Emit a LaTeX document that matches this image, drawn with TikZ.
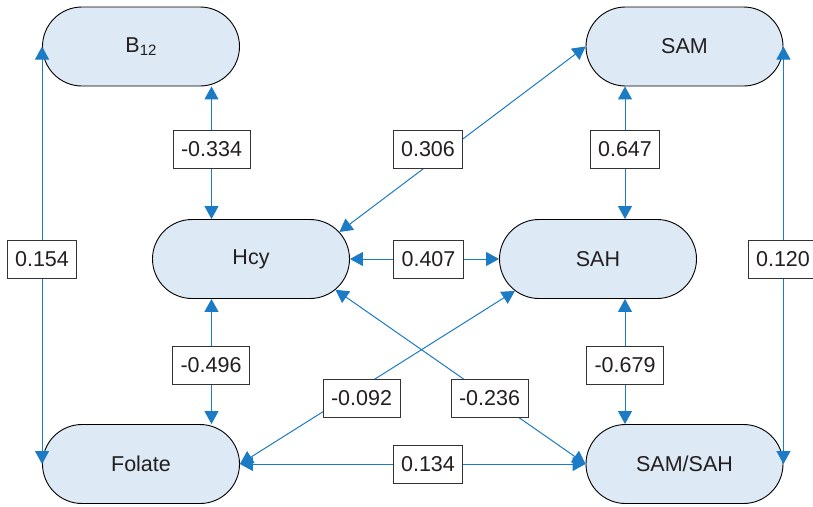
\documentclass[tikz,border=0pt]{standalone}
\usepackage{fontspec}
\setmainfont{Liberation Sans}
\usetikzlibrary{shapes.misc,arrows.meta}
\definecolor{nodefill}{RGB}{221,233,244}
\definecolor{arrowblue}{RGB}{27,123,196}
\definecolor{txt}{RGB}{35,31,32}
\begin{document}
\begin{tikzpicture}[x=1pt,y=-1pt,
  state/.style={rounded rectangle, draw=black, line width=0.9pt, fill=nodefill,
    minimum width=197pt, minimum height=79pt, inner sep=0pt,
    font=\fontsize{21.5}{26}\selectfont, text=txt},
  lbl/.style={draw=black!80, line width=0.9pt, fill=white, minimum height=38pt,
    inner xsep=8pt, inner ysep=0pt, font=\fontsize{21.5}{26}\selectfont, text=txt},
  biarr/.style={draw=arrowblue, line width=1pt,
    {Triangle[length=13pt,width=14pt]}-{Triangle[length=13pt,width=14pt]}}
]
\useasboundingbox (0,0) rectangle (813,506);
% states
\node[state] (B12) at (141,46.5) {B{\fontsize{15}{15}\selectfont\raisebox{-3pt}{12}}};
\node[state] (SAM) at (684.5,46.5) {SAM};
\node[state] (Hcy) at (251,259) {Hcy};
\node[state] (SAH) at (598,259) {SAH};
\node[state] (Folate) at (141,464) {Folate};
\node[state] (SAMSAH) at (684.5,464) {SAM/SAH};
% connectors
\draw[biarr] (B12.west) -- (Folate.west);
\draw[biarr] (SAM.east) -- (SAMSAH.east);
\draw[biarr] ([xshift=70.5pt]B12.south) -- ([xshift=-39.5pt]Hcy.north);
\draw[biarr] ([xshift=-39.5pt]Hcy.south) -- ([xshift=70.5pt]Folate.north);
\draw[biarr] ([xshift=-59.5pt]SAM.south) -- ([xshift=27pt]SAH.north);
\draw[biarr] ([xshift=27pt]SAH.south) -- ([xshift=-59.5pt]SAMSAH.north);
\draw[biarr] (Hcy.east) -- (SAH.west);
\draw[biarr] (Folate.east) -- (SAMSAH.west);
\draw[biarr] (Hcy.17) -- (SAM.west);
\draw[biarr] (Folate.east) -- (SAH.201);
\draw[biarr] (Hcy.-20) -- (SAMSAH.west);
% labels
\node[lbl] (l334) at (211.5,149) {-0.334};
\node[lbl] (l306) at (428,149) {0.306};
\node[lbl] (l647) at (625,149) {0.647};
\node[lbl] (l154) at (42,259) {0.154};
\node[lbl] (l407) at (428.5,259) {0.407};
\node[lbl] (l120) at (783,259) {0.120};
\node[lbl] (l496) at (211,365) {-0.496};
\node[lbl] (l679) at (625,365) {-0.679};
\node[lbl] (l092) at (361.5,398) {-0.092};
\node[lbl] (l236) at (489.5,398) {-0.236};
\node[lbl] (l134) at (428,464) {0.134};
\end{tikzpicture}
\end{document}
